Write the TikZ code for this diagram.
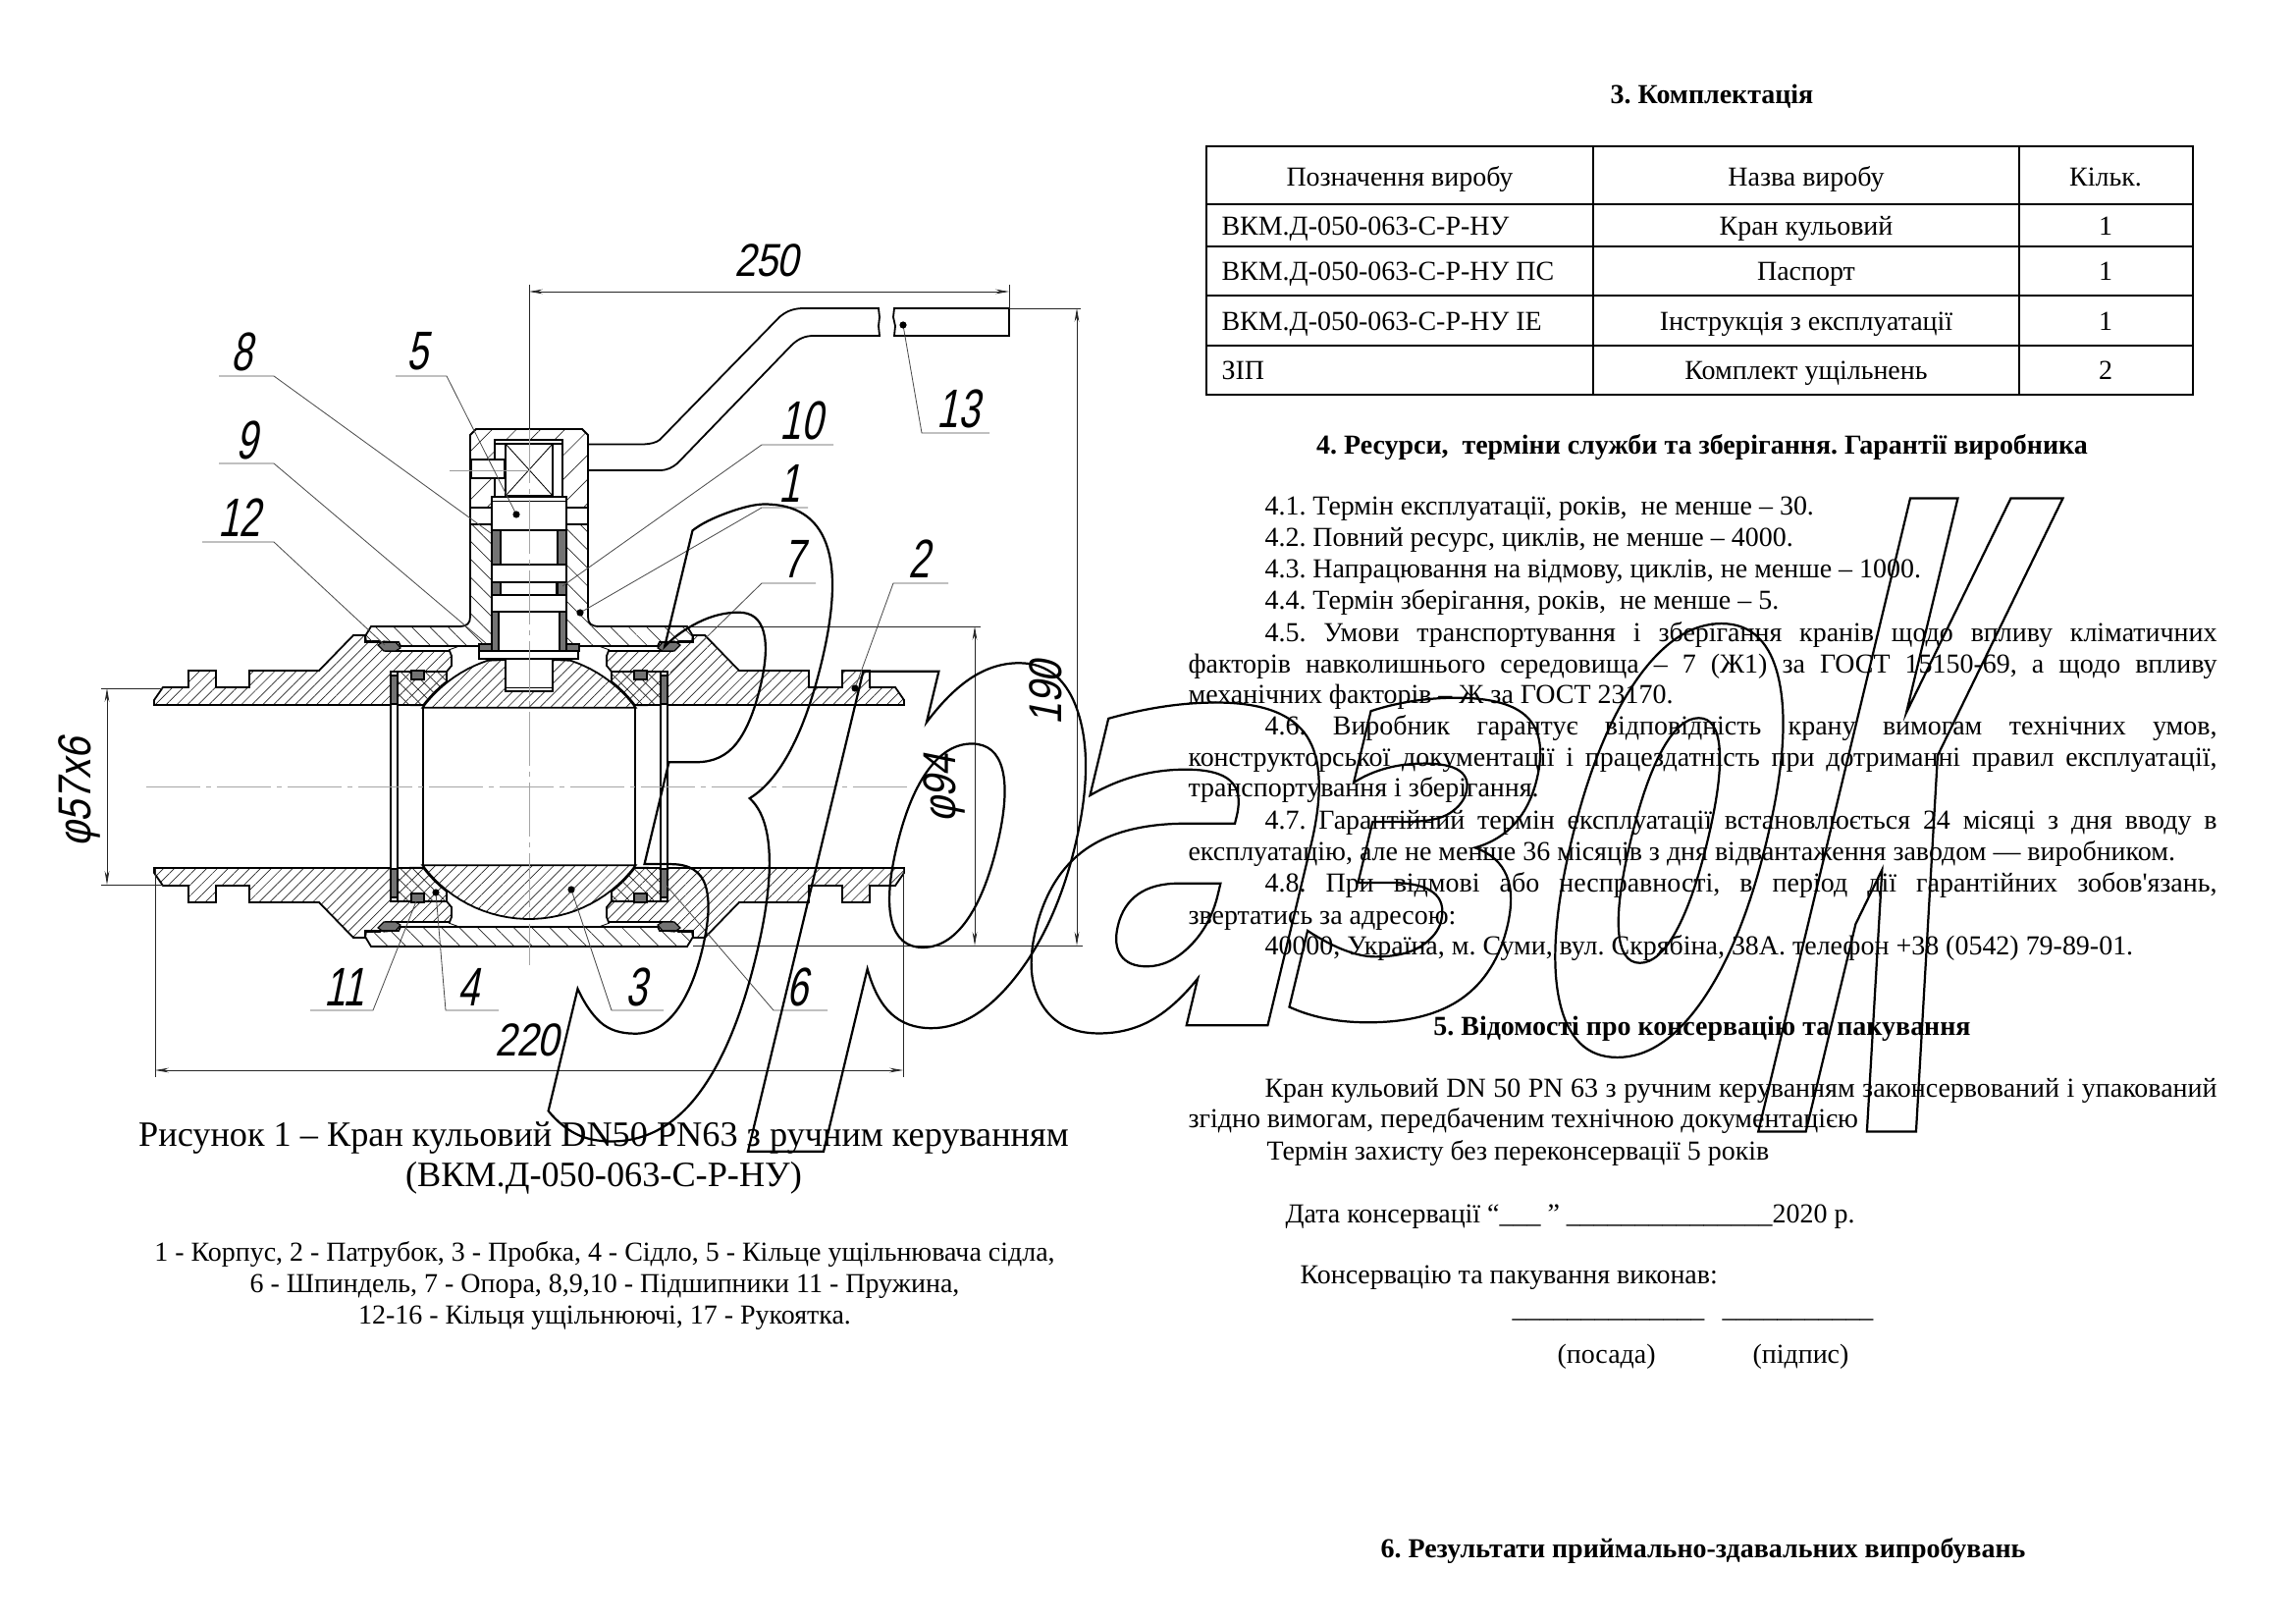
\documentclass[tikz,border=0pt]{standalone}
\usepackage{fontspec}
\setmainfont{Liberation Serif}
\newfontfamily\straightq{Liberation Serif}
\newfontfamily\drawfont[FakeSlant=.2,FakeStretch=.7]{Liberation Sans}
\newfontfamily\dimfont[FakeSlant=.2,FakeStretch=.84]{Liberation Sans}
\newfontface\za[FakeStretch=.35,FakeSlant=.24]{DejaVu Sans Bold}
\newfontface\zb[FakeStretch=.68,FakeSlant=.24]{DejaVu Sans Bold}
\newfontface\zc[FakeStretch=.80,FakeSlant=.24]{DejaVu Sans Bold}
\newfontface\zd[FakeStretch=.75,FakeSlant=.24]{DejaVu Sans Bold}
\newfontface\ze[FakeStretch=.43,FakeSlant=.24]{DejaVu Sans Bold}
\newfontface\zf[FakeStretch=.235,FakeSlant=.24]{DejaVu Sans Bold}
\usetikzlibrary{arrows.meta,patterns.meta}
\newdimen\pxu \pxu=0.3613pt
\tikzset{
	mainl/.style = {line width=.65pt, black},
	thinl/.style = {line width=.3pt, black},
	dimln/.style = {line width=.3pt, black!85},
	leader/.style = {line width=.3pt, black!70},
	axisl/.style = {line width=.3pt, black!35, dash pattern=on 20pt off 2pt on 2pt off 2pt},
	hatchb/.style = {pattern={Lines[angle=45,distance=2.8pt,line width=.25pt]}, pattern color=black!85},
	hatchc/.style = {pattern={Lines[angle=-45,distance=4.7pt,line width=.25pt]}, pattern color=black!85},
	hatchh/.style = {pattern={Lines[angle=45,distance=6.3pt,line width=.25pt]}, pattern color=black!85},
	hatchx/.style = {pattern={Lines[angle=45,distance=3.2pt,line width=.25pt]}, postaction={pattern={Lines[angle=-45,distance=3.2pt,line width=.25pt]}, pattern color=black!85}, pattern color=black!85},
	sealg/.style = {fill=black!55, draw=black, line width=.4pt},
	partnum/.style = {inner sep=0pt, font=\drawfont\fontsize{20}{20}\selectfont},
	dimnum/.style = {inner sep=0pt, font=\dimfont\fontsize{17}{17}\selectfont},
	txt/.style = {anchor=base west, inner sep=0pt, font=\fontsize{10.1}{12}\selectfont},
	txtc/.style = {anchor=base, inner sep=0pt, font=\fontsize{10.1}{12}\selectfont},
	txtb/.style = {anchor=base, inner sep=0pt, font=\bfseries\fontsize{10.1}{12}\selectfont},
	stamp/.style = {inner sep=0pt},
}
\newcommand{\outl}[1]{\special{pdf:code 1 Tr 0.8 w}#1\special{pdf:code 0 Tr}}
\begin{document}
\frenchspacing
\begin{tikzpicture}[x=0.12698mm, y=-0.12698mm, >={Stealth[length=5pt,width=1.7pt]}]
\useasboundingbox (0,0) rectangle (2339,1654);

% valve section, centre of the bore
\begin{scope}[shift={(539,801)}]
\foreach \sx/\sy in {1/1,-1/1,1/-1,-1/-1}{
	\begin{scope}[xscale=\sx, yscale=\sy]
	\draw [mainl, hatchb] (-382,-83) -- (-382,-88) -- (-373,-101) -- (-347,-101) -- (-347,-118) -- (-319,-118) -- (-319,-101)
		-- (-285,-101) -- (-285,-118) -- (-214,-118) -- (-179,-154) -- (-167,-154) -- (-166,-148) -- (-152,-148) -- (-146,-138)
		-- (-81,-138) -- (-79,-133) -- (-79,-123) -- (-84,-117) -- (-141,-117) -- (-141,-83) -- cycle;
	% seat
	\draw [mainl, hatchx] (-134,-117) -- (-84,-117) -- (-84,-107)
		-- plot[domain=231.8:217.5,samples=8,variable=\t] ({136*cos(\t)},{136*sin(\t)}) -- (-134,-83) -- cycle;
	\draw [sealg] (-141,-113) rectangle (-134,-84);
	\draw [sealg] (-120,-118) rectangle (-107,-109);
	\draw [sealg] (-154,-144) -- (-148,-148) -- (-136,-147) -- (-131,-141) -- (-136,-138) -- (-148,-138) -- cycle;
	\draw [mainl] (-141,-83) -- (-141,0);
	\draw [mainl] (-134,-83) -- (-134,0);
	\draw [mainl] (-134,-83) -- (-108,-83);
	\draw [thinl] (-82,-139) -- (-71,-143);
	\end{scope}
}
% ball
\draw [mainl, hatchb] plot[domain=143.5:36.5,samples=30,variable=\t] ({135*cos(\t)},{135*sin(\t)}) -- cycle;
\draw [mainl, hatchb] plot[domain=216.5:251.8,samples=12,variable=\t] ({135*cos(\t)},{135*sin(\t)}) -- (-24,-129) -- (-24,-97) -- (24,-97) -- (24,-129)
	-- plot[domain=288.2:323.5,samples=12,variable=\t] ({135*cos(\t)},{135*sin(\t)}) -- cycle;
\draw [mainl] (-108,-80) -- (-108,80);
\draw [mainl] (108,-80) -- (108,80);
\draw [thinl] (-24,-101) -- (24,-101);
% covers
\draw [mainl, hatchc] (-167,147) -- (-167,153) -- (-161,163) -- (161,163) -- (167,153) -- (167,147) -- (133,147) -- (131,143) -- (-131,143) -- (-133,147) -- cycle;
\foreach \sx in {1,-1}{
	\begin{scope}[xscale=\sx]
	\draw [mainl, hatchc] (-167,-147) -- (-167,-153) -- (-161,-163) -- (-72,-163) .. controls (-63,-163) and (-60,-166) .. (-60,-173) -- (-60,-267) -- (-38,-267)
		-- (-38,-145) -- (-51,-145) -- (-51,-143) -- (-131,-143) -- (-133,-147) -- cycle;
	\draw [mainl] (-60,-284) -- (-60,-267);
	\draw [sealg] (-38,-261) rectangle (-29,-226);
	\draw [sealg] (-38,-208) rectangle (-29,-195);
	\draw [sealg] (-38,-178) rectangle (-31,-138);
	\draw [sealg] (-51,-145) rectangle (-38,-138);
	\end{scope}
}
% head of the lever
\draw [mainl, hatchh] (-60,-284) -- (-60,-358) -- (-54,-364) -- (54,-364) -- (60,-358) -- (60,-284) -- (38,-284) -- (38,-295) -- (34,-295) -- (34,-353)
	-- (-35,-353) -- (-35,-295) -- (-38,-295) -- (-38,-284) -- cycle;
\draw [mainl] (-35,-349) -- (34,-349);
\draw [mainl] (-24,-349) rectangle (24,-296);
\draw [thinl] (-24,-349) -- (24,-296);
\draw [thinl] (24,-349) -- (-24,-296);
\draw [mainl, fill=white] (-59,-333) rectangle (-25,-314);
\draw [thinl, black!40] (-81,-322) -- (1,-322);
% spindle
\draw [mainl] (-38,-295) rectangle (38,-261);
\draw [thinl] (-38,-291) -- (38,-291);
\draw [mainl] (-38,-226) rectangle (38,-208);
\draw [mainl] (-38,-195) rectangle (38,-178);
\draw [mainl] (-29,-208) -- (-29,-195);
\draw [mainl] (28,-208) -- (28,-195);
\draw [mainl, fill=white] (-51,-138) rectangle (50,-130);
\draw [axisl] (-390,0) -- (389,0);
\draw [axisl] (0,-364) -- (0,182);
\end{scope}

% lever
\coordinate (hta) at (599,452.5);
\coordinate (hba) at (599,479);
\draw [mainl] (hta) -- (656,452.5) .. controls (663,452) and (668,451) .. (672,448) -- (794,323) .. controls (802,316) and (810,314) .. (819,314) -- (895,314)
	-- (896,323) -- (895,332) -- (896,342) -- (829,342) .. controls (820,342) and (813,345) .. (806,352) -- (690,472) .. controls (685,476) and (680,479) .. (672,479) -- (hba);
\draw [mainl] (911,314) -- (1028,314) -- (1028,342) -- (911,342) -- (912,332) -- (910,323) -- cycle;

% dimensions
\coordinate (a250) at (539,297);
\coordinate (b250) at (1028,297);
\draw [dimln] (539,290) -- (539,437);
\draw [dimln] (1028,290) -- (1028,315);
\draw [dimln, <->] (a250) -- (b250);
\node [dimnum] (d250) at (781,265) {250};
\coordinate (a220) at (158,1090);
\coordinate (b220) at (920,1090);
\draw [dimln] (158,885) -- (158,1097);
\draw [dimln] (920,885) -- (920,1097);
\draw [dimln, <->] (a220) -- (b220);
\node [dimnum] (d220) at (537,1059) {220};
\coordinate (a57) at (109,701);
\coordinate (b57) at (109,901);
\draw [dimln] (103,701) -- (166,701);
\draw [dimln] (103,901) -- (166,901);
\draw [dimln, <->] (a57) -- (b57);
\node [dimnum, rotate=90] (d57) at (81,807) {φ57x6};
\coordinate (a94) at (993,638);
\coordinate (b94) at (993,963);
\draw [dimln] (609,638) -- (999,638);
\draw [dimln] (706,963) -- (1103,963);
\draw [dimln, <->] (a94) -- (b94);
\node [dimnum, rotate=90] (d94) at (962,803) {φ94};
\coordinate (a190) at (1097,314);
\coordinate (b190) at (1097,963);
\draw [dimln] (1028,314) -- (1101,314);
\draw [dimln, <->] (a190) -- (b190);
\node [dimnum, rotate=90] (d190) at (1065,706) {190};

% part numbers: name/label x/label y/free end/elbow/shelf y/target x/target y/dot
\foreach \nm/\lx/\ly/\fx/\ex/\sy/\tx/\ty/\dt in {
	8/246/358/223/279/383/500/543/0,
	5/425/358/403/455/383/526/524/1.3,
	9/251/448/223/279/472/495/655/0,
	12/244/527/206/279/552/392/657/0,
	10/816/428/849/776/453/573/597/0,
	1/804/492/823/776/517/591/624/1.3,
	7/808/569/831/776/594/683/685/0,
	2/936/569/966/910/594/871/701/1.3,
	13/976/416/1008/939/441/920/331/1.3,
	11/351/1005/316/380/1029/424/918/0,
	4/477/1005/508/454/1029/444/909/1.3,
	3/648/1005/676/623/1029/582/906/1.3,
	6/812/1005/843/788/1029/679/902/0}{
	\node [partnum] (n\nm) at (\lx,\ly) {\nm};
	\coordinate (f\nm) at (\fx,\sy);
	\coordinate (e\nm) at (\ex,\sy);
	\coordinate (t\nm) at (\tx,\ty);
	\draw [leader] (f\nm) -- (e\nm) -- (t\nm);
	\fill (t\nm) circle (\dt pt);
}

% caption and legend
\node [txtc, font=\fontsize{13.1}{15}\selectfont] (cap1) at (615,1167) {Рисунок 1 – Кран кульовий DN50 PN63 з ручним керуванням};
\node [txtc, font=\fontsize{13.1}{15}\selectfont] (cap2) at (615,1208) {(ВКМ.Д-050-063-С-Р-НУ)};
\foreach \nm/\y/\txt in {
	1/1284/{1 - Корпус, 2 - Патрубок, 3 - Пробка, 4 - Сідло, 5 - Кільце ущільнювача сідла,},
	2/1316/{6 - Шпиндель, 7 - Опора, 8,9,10 - Підшипники 11 - Пружина,},
	3/1348/{12-16 - Кільця ущільнюючі, 17 - Рукоятка.}}{
	\node [txtc] (leg\nm) at (616,\y) {\txt};
}

% table
\coordinate (tl) at (1229,149);
\coordinate (br) at (2234,402);
\draw [mainl] (tl) rectangle (br);
\foreach \cx in {1623,2057}{
	\draw [mainl] (\cx,149) -- (\cx,402);
}
\foreach \ry in {208,251,301,352}{
	\draw [mainl] (1229,\ry) -- (2234,\ry);
}
\node [txtb] (h3) at (1744,106) {3. Комплектація};
\foreach \nm/\y/\ca/\cb/\cc in {
	0/190/{}/{Назва виробу}/{Кільк.},
	1/240/{ВКМ.Д-050-063-С-Р-НУ}/{Кран кульовий}/{1},
	2/286/{ВКМ.Д-050-063-С-Р-НУ ПС}/{Паспорт}/{1},
	3/337/{ВКМ.Д-050-063-С-Р-НУ ІЕ}/{Інструкція з експлуатації}/{1},
	4/387/{ЗІП}/{Комплект ущільнень}/{2}}{
	\node [txt] (ca\nm) at (1244,\y) {\ca};
	\node [txtc] (cb\nm) at (1840,\y) {\cb};
	\node [txtc] (cc\nm) at (2145,\y) {\cc};
}
\node [txtc] (ca) at (1426,190) {Позначення виробу};

% text of the right column
\node [txtb] (h4) at (1734,463) {4. Ресурси,\ \ терміни служби та зберігання. Гарантії виробника};
\foreach \nm/\x/\y/\txt in {
	a/1288/524.5/{4.1. Термін експлуатації, років,\ \ не менше – 30.},
	b/1288/556.5/{4.2. Повний ресурс, циклів, не менше – 4000.},
	c/1288/588.5/{4.3. Напрацювання на відмову, циклів, не менше – 1000.},
	d/1288/620.5/{4.4. Термін зберігання, років,\ \ не менше – 5.},
	e/1210/716.5/{механічних факторів – Ж за ГОСТ 23170.},
	f/1210/811.5/{транспортування і зберігання.},
	g/1210/876.5/{експлуатацію, але не менше 36 місяців з дня відвантаження заводом — виробником.},
	h/1210/941.5/{звертатись за адресою:},
	i/1288/972.5/{40000, Україна, м. Суми, вул. Скрябіна, 38А. телефон +38 (0542) 79-89-01.},
	j/1210/1149/{згідно вимогам, передбаченим технічною документацією},
	k/1290/1181/{Термін захисту без переконсервації 5 років},
	l/1309/1245/{Дата консервації “\_\_\_ ” \_\_\_\_\_\_\_\_\_\_\_\_\_\_\_2020 р.},
	m/1324/1307/{Консервацію та пакування виконав:},
	n/1540/1341/{\_\_\_\_\_\_\_\_\_\_\_\_\_\_},
	y/1754/1341/{\_\_\_\_\_\_\_\_\_\_\_},
	o/1586/1388/{(посада)},
	p/1785/1388/{(підпис)}}{
	\node [txt] (t\nm) at (\x,\y) {\txt};
}
\foreach \nm/\x/\y/\lw/\txt in {
	q/1288/653.5/970/{4.5. Умови транспортування і зберігання кранів щодо впливу кліматичних},
	r/1210/685.5/1048/{факторів навколишнього середовища – 7 (Ж1) за ГОСТ 15150-69, а щодо впливу},
	s/1288/748.5/970/{4.6. Виробник гарантує відповідність крану вимогам технічних умов,},
	u/1210/780.5/1048/{конструкторської документації і працездатність при дотриманні правил експлуатації,},
	v/1288/844.5/970/{4.7. Гарантійний термін експлуатації встановлюється 24 місяці з дня вводу в},
	w/1288/908.5/970/{4.8. При відмові або несправності, в період дії гарантійних зобов{\straightq '}язань,},
	x/1288/1117/970/{Кран кульовий DN 50 PN 63 з ручним керуванням законсервований і упакований}}{
	\node [txt] (t\nm) at (\x,\y) {\makebox[\lw\pxu][s]{\txt}};
}
\node [txtb] (h5) at (1734,1054) {5. Відомості про консервацію та пакування};
\node [txtb] (h6) at (1735,1586) {6. Результати приймально-здавальних випробувань};

% stamp
\foreach \nm/\fc/\fs/\x/\y/\ch in {
	1/\za/310/641/838/З,
	2/\zb/234/915/924/р,
	3/\zc/212/1170/884/а,
	4/\zd/208/1416/876/з,
	5/\ze/278/1650/856/о,
	6/\zf/426/1862/830/к}{
	\node [stamp] (z\nm) at (\x,\y) {\outl{\fc\fontsize{\fs}{\fs}\selectfont\ch}};
}
\end{tikzpicture}
\end{document}
